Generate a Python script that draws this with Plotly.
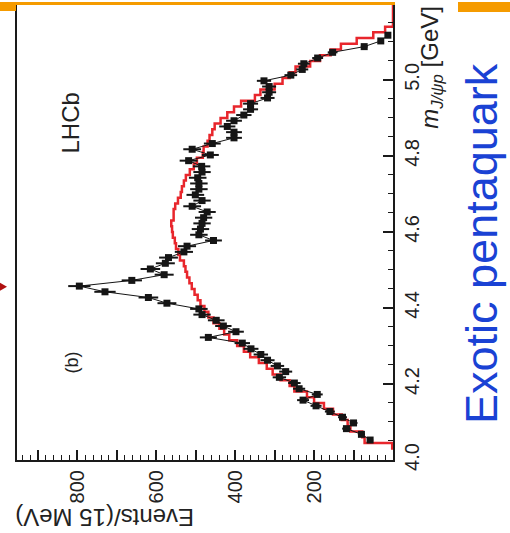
import numpy as np
import plotly.graph_objects as go

# ---- data ----
mass = [4.0525, 4.0675, 4.0825, 4.0975, 4.1125, 4.1275, 4.1425, 4.1575, 4.1725, 4.1875,
        4.2025, 4.2175, 4.2325, 4.2475, 4.2625, 4.2775, 4.2925, 4.3075, 4.3225, 4.3375,
        4.3525, 4.3675, 4.3825, 4.3975, 4.4125, 4.4275, 4.4425, 4.4575, 4.4725, 4.4875,
        4.5025, 4.5175, 4.5325, 4.5475, 4.5625, 4.5775, 4.5925, 4.6075, 4.6225, 4.6375,
        4.6525, 4.6675, 4.6825, 4.6975, 4.7125, 4.7275, 4.7425, 4.7575, 4.7725, 4.7875,
        4.8025, 4.8175, 4.8325, 4.8475, 4.8625, 4.8775, 4.8925, 4.9075, 4.9225, 4.9375,
        4.9525, 4.9675, 4.9825, 4.9975, 5.0125, 5.0275, 5.0425, 5.0575, 5.0725, 5.0875,
        5.1025, 5.1175]
events = [58, 80, 118, 100, 128, 160, 195, 228, 192, 238,
          250, 288, 272, 293, 318, 335, 360, 382, 468, 398,
          430, 448, 484, 492, 573, 620, 730, 795, 662, 580,
          615, 577, 569, 530, 522, 455, 492, 488, 484, 480,
          471, 509, 484, 501, 492, 492, 495, 484, 485, 518,
          463, 509, 458, 403, 403, 420, 403, 378, 361, 361,
          318, 314, 314, 327, 259, 230, 226, 191, 153, 73,
          31, 13]

fit_first_edge = 4.03
fit_bin_width = 0.015
fit_values = [2, 72, 78, 108, 115, 130, 152, 175, 200, 218, 250,
              262, 285, 305, 320, 340, 362, 378, 395, 415, 428,
              440, 455, 468, 478, 488, 495, 503, 510, 516, 522,
              526, 530, 540, 544, 550, 553, 558, 560, 562, 556,
              556, 552, 545, 538, 535, 530, 525, 515, 505, 497,
              482, 480, 470, 465, 458, 452, 437, 420, 403, 385,
              350, 336, 300, 280, 262, 247, 210, 185, 158, 132,
              92, 50, 20]

ev_labels = [200, 400, 600, 800]
ev_unlabelled = [100, 300, 500, 700, 900]
m_tickvals = [4.0, 4.2, 4.4, 4.6, 4.8, 5.0]
m_ticktext = ["4.0", "4.2", "4.4", "4.6", "4.8", "5.0"]

# ---- geometry helpers (pixel -> paper) ----
W, H = 510, 533
L, R, T, B = 17, 117, 3, 73
PW, PH = W - L - R, H - T - B


def px(xp):
    return (xp - L) / PW


def py(yp):
    return (H - B - yp) / PH


# step path of the red histogram
fx, fy = [0], [fit_first_edge]
for i, v in enumerate(fit_values):
    lo = fit_first_edge + i * fit_bin_width
    fx += [v, v]
    fy += [lo, lo + fit_bin_width]
end_edge = fit_first_edge + len(fit_values) * fit_bin_width
fx += [0, 0]
fy += [end_edge, 5.25]

err = np.sqrt(np.array(events, dtype=float))

fig = go.Figure()
fig.add_trace(go.Scatter(x=fx, y=fy, mode="lines",
                         line=dict(color="#e8262c", width=2.5),
                         hoverinfo="skip"))
fig.add_trace(go.Scatter(x=events, y=mass, mode="lines+markers",
                         line=dict(color="#151515", width=1),
                         marker=dict(symbol="square", size=7, color="#151515"),
                         error_x=dict(type="data", array=err, color="#151515",
                                      thickness=2, width=0)))
# invisible trace to carry the unlabelled major ticks axis
fig.add_trace(go.Scatter(x=[500], y=[4.5], xaxis="x2", mode="markers",
                         marker=dict(opacity=0), hoverinfo="skip"))

font_fam = "Liberation Sans, Arial, sans-serif"
axcol = "#1a1a1a"
fig.update_layout(
    width=W, height=H, margin=dict(l=L, r=R, t=T, b=B),
    paper_bgcolor="white", plot_bgcolor="white", showlegend=False,
    xaxis=dict(range=[953, 0], showgrid=False, zeroline=False,
               showline=True, linecolor=axcol, linewidth=2, mirror=True,
               ticks="inside", ticklen=10, tickwidth=1.5, tickcolor=axcol,
               tickvals=ev_labels, ticktext=[str(v) for v in ev_labels], tickangle=-90,
               tickfont=dict(family=font_fam, size=20, color="#222"),
               minor=dict(dtick=20, tick0=0, ticks="inside", ticklen=5,
                          tickwidth=1.2, tickcolor=axcol)),
    xaxis2=dict(range=[953, 0], overlaying="x", side="bottom", anchor="y",
                showgrid=False, zeroline=False, showline=False,
                ticks="inside", ticklen=10, tickwidth=1.5, tickcolor=axcol,
                tickvals=ev_unlabelled, showticklabels=False),
    yaxis=dict(range=[4.0, 5.197], side="right", showgrid=False, zeroline=False,
               showline=True, linecolor=axcol, linewidth=2, mirror=True,
               ticks="inside", ticklen=10, tickwidth=1.5, tickcolor=axcol,
               tickvals=m_tickvals, ticktext=m_ticktext, tickangle=-90,
               tickfont=dict(family=font_fam, size=20, color="#222"),
               minor=dict(dtick=0.05, tick0=4.0, ticks="inside", ticklen=5,
                          tickwidth=1.2, tickcolor=axcol)),
)

ann = [
    dict(text="Events/(15 MeV)", x=px(105), y=py(517), textangle=180, size=24, color="#222"),
    dict(text="<i>m</i><sub><i>J/ψp</i></sub> [GeV]", x=px(432), y=py(66), textangle=-90, size=24, color="#222"),
    dict(text="LHCb", x=px(70), y=py(122), textangle=-90, size=24, color="#222"),
    dict(text="(b)", x=px(72), y=py(362), textangle=-90, size=18, color="#222"),
    dict(text="Exotic pentaquark", x=px(482), y=py(243), textangle=-90, size=45, color="#1a42d4"),
]
for a in ann:
    fig.add_annotation(text=a["text"], x=a["x"], y=a["y"], xref="paper", yref="paper",
                       xanchor="center", yanchor="middle", showarrow=False,
                       textangle=a["textangle"],
                       font=dict(family=font_fam, size=a["size"], color=a["color"]))

orange = "#f59b00"
shapes = [
    dict(x0=px(0), x1=px(395), y0=py(0), y1=py(3)),
    dict(x0=px(0), x1=px(16), y0=py(0), y1=py(9)),
    dict(x0=px(458), x1=px(510), y0=py(0), y1=py(10)),
]
for s in shapes:
    fig.add_shape(type="rect", xref="paper", yref="paper", x0=s["x0"], x1=s["x1"],
                  y0=s["y0"], y1=s["y1"], fillcolor=orange, line=dict(width=0), layer="above")
tri = f"M {px(0)},{py(282)} L {px(7)},{py(286)} L {px(0)},{py(290)} Z"
fig.add_shape(type="path", path=tri, xref="paper", yref="paper",
              fillcolor="#b01010", line=dict(width=0), layer="above")

fig.write_html("out.html")
